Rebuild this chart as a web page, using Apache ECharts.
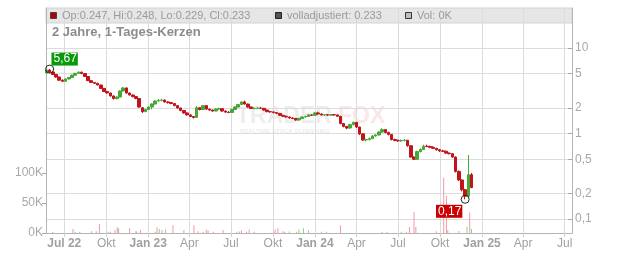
<!DOCTYPE html>
<html><head><meta charset="utf-8">
<script src="https://cdn.jsdelivr.net/npm/echarts@6/dist/echarts.min.js"></script>
<style>html,body{margin:0;padding:0;background:#fff}#c{width:632px;height:253px}</style>
</head><body><div id="c"></div>
<script>
// weekly candles (Monday of each week)
const weekDates = [
'2022-05-23','2022-05-30','2022-06-06','2022-06-13','2022-06-20','2022-06-27','2022-07-04','2022-07-11','2022-07-18','2022-07-25','2022-08-01','2022-08-08','2022-08-15','2022-08-22','2022-08-29','2022-09-05','2022-09-12','2022-09-19','2022-09-26','2022-10-03','2022-10-10','2022-10-17','2022-10-24','2022-10-31','2022-11-07','2022-11-14','2022-11-21','2022-11-28','2022-12-05','2022-12-12','2022-12-19','2022-12-26',
'2023-01-02','2023-01-09','2023-01-16','2023-01-23','2023-01-30','2023-02-06','2023-02-13','2023-02-20','2023-02-27','2023-03-06','2023-03-13','2023-03-20','2023-03-27','2023-04-03','2023-04-10','2023-04-17','2023-04-24','2023-05-01','2023-05-08','2023-05-15','2023-05-22','2023-05-29','2023-06-05','2023-06-12','2023-06-19','2023-06-26','2023-07-03','2023-07-10','2023-07-17','2023-07-24','2023-07-31','2023-08-07','2023-08-14','2023-08-21','2023-08-28','2023-09-04','2023-09-11','2023-09-18','2023-09-25','2023-10-02','2023-10-09','2023-10-16','2023-10-23','2023-10-30','2023-11-06','2023-11-13','2023-11-20','2023-11-27','2023-12-04','2023-12-11','2023-12-18','2023-12-25',
'2024-01-01','2024-01-08','2024-01-15','2024-01-22','2024-01-29','2024-02-05','2024-02-12','2024-02-19','2024-02-26','2024-03-04','2024-03-11','2024-03-18','2024-03-25','2024-04-01','2024-04-08','2024-04-15','2024-04-22','2024-04-29','2024-05-06','2024-05-13','2024-05-20','2024-05-27','2024-06-03','2024-06-10','2024-06-17','2024-06-24','2024-07-01','2024-07-08','2024-07-15','2024-07-22','2024-07-29','2024-08-05','2024-08-12','2024-08-19','2024-08-26','2024-09-02','2024-09-09','2024-09-16','2024-09-23','2024-09-30','2024-10-07','2024-10-14','2024-10-21','2024-10-28','2024-11-04','2024-11-11','2024-11-18','2024-11-25','2024-12-02','2024-12-09'];
const opens = [5.10,5.53,5.24,4.90,4.58,4.20,4.08,4.34,4.52,4.80,5.05,5.22,5.02,4.64,4.15,3.95,3.86,3.69,3.37,3.10,2.98,2.75,2.56,2.67,3.14,3.41,2.98,2.82,2.70,2.57,2.00,1.80,
1.91,2.04,2.21,2.40,2.44,2.46,2.34,2.30,2.24,2.12,1.99,1.86,1.74,1.65,1.58,1.54,2.00,1.91,2.12,1.93,1.88,1.83,1.93,1.95,1.83,1.78,1.76,1.91,2.04,2.18,2.34,2.21,2.04,1.96,1.97,1.98,1.97,1.88,1.80,1.79,1.76,1.72,1.63,1.59,1.56,1.52,1.50,1.44,1.50,1.56,1.58,1.65,
1.63,1.74,1.69,1.65,1.66,1.64,1.66,1.65,1.59,1.31,1.21,1.16,1.27,1.35,1.19,0.99,0.84,0.85,0.87,0.935,0.96,1.04,1.11,1.03,0.975,0.85,0.83,0.82,0.83,0.835,0.72,0.53,0.50,0.615,0.65,0.71,0.705,0.69,0.67,0.645,0.625,0.62,0.59,0.58,0.53,0.36,0.286,0.22,0.185,0.33];
const highs = [5.55,5.67,5.30,4.95,4.62,4.30,4.40,4.58,4.88,5.12,5.30,5.28,5.05,4.68,4.18,3.98,3.92,3.72,3.40,3.15,3.00,2.78,2.72,3.20,3.50,3.45,3.00,2.86,2.74,2.60,2.02,1.95,
2.08,2.26,2.45,2.52,2.55,2.50,2.38,2.33,2.27,2.15,2.00,1.88,1.76,1.68,1.60,2.10,2.02,2.15,2.14,1.95,1.90,1.96,2.00,1.96,1.86,1.82,1.95,2.08,2.22,2.38,2.42,2.24,2.06,2.02,2.02,2.03,1.99,1.90,1.84,1.81,1.78,1.74,1.66,1.62,1.58,1.55,1.52,1.53,1.59,1.62,1.68,1.67,
1.78,1.80,1.72,1.69,1.68,1.69,1.69,1.67,1.60,1.32,1.22,1.30,1.38,1.36,1.20,1.00,0.87,0.90,0.96,0.98,1.06,1.15,1.12,1.05,0.98,0.87,0.85,0.85,0.86,0.84,0.73,0.54,0.63,0.67,0.74,0.74,0.72,0.71,0.68,0.66,0.645,0.63,0.60,0.59,0.54,0.37,0.29,0.225,0.56,0.345];
const lows = [5.00,5.15,4.85,4.50,4.15,4.02,4.05,4.30,4.48,4.75,5.00,4.95,4.60,4.10,3.90,3.80,3.65,3.32,3.05,2.93,2.70,2.50,2.50,2.65,3.10,2.92,2.78,2.65,2.52,2.00,1.74,1.78,
1.89,1.92,2.18,2.36,2.38,2.30,2.24,2.20,2.08,1.95,1.82,1.70,1.62,1.55,1.50,1.52,1.86,1.90,1.90,1.84,1.80,1.82,1.90,1.80,1.75,1.73,1.75,1.90,2.02,2.15,2.18,2.00,1.93,1.92,1.93,1.93,1.85,1.77,1.76,1.72,1.68,1.60,1.55,1.53,1.49,1.47,1.41,1.40,1.48,1.54,1.56,1.60,
1.62,1.66,1.62,1.61,1.61,1.62,1.62,1.57,1.28,1.18,1.12,1.14,1.25,1.16,0.96,0.82,0.81,0.83,0.86,0.92,0.95,1.02,1.00,0.95,0.83,0.81,0.80,0.80,0.81,0.70,0.52,0.49,0.49,0.60,0.64,0.69,0.67,0.66,0.63,0.61,0.61,0.58,0.57,0.52,0.35,0.28,0.21,0.17,0.18,0.229];
const closes = [5.53,5.24,4.90,4.58,4.20,4.08,4.34,4.52,4.80,5.05,5.22,5.02,4.64,4.15,3.95,3.86,3.69,3.37,3.10,2.98,2.75,2.56,2.67,3.14,3.41,2.98,2.82,2.70,2.57,2.04,1.80,1.91,
2.04,2.21,2.40,2.44,2.46,2.34,2.30,2.24,2.12,1.99,1.86,1.74,1.65,1.58,1.54,2.00,1.91,2.12,1.93,1.88,1.83,1.93,1.95,1.83,1.78,1.76,1.91,2.04,2.18,2.34,2.21,2.04,1.96,1.97,1.98,1.97,1.88,1.80,1.79,1.76,1.72,1.63,1.59,1.56,1.52,1.50,1.44,1.50,1.56,1.58,1.65,1.63,
1.74,1.69,1.65,1.66,1.64,1.66,1.65,1.59,1.31,1.21,1.16,1.27,1.35,1.19,0.99,0.84,0.85,0.87,0.935,0.96,1.04,1.11,1.03,0.975,0.85,0.83,0.82,0.83,0.835,0.72,0.53,0.50,0.615,0.65,0.71,0.705,0.69,0.67,0.645,0.625,0.62,0.59,0.58,0.53,0.36,0.286,0.22,0.185,0.33,0.233];

// daily volume bars (non-zero days only); 1 = up day, 0 = down day
const volDates = ['2022-06-06','2022-07-20','2022-07-25','2022-08-04','2022-08-30','2022-09-09','2022-09-16','2022-10-05','2022-10-10','2022-10-20','2022-10-25','2022-10-28','2022-11-21','2022-12-05','2022-12-07','2022-12-15',
'2023-01-16','2023-01-20','2023-01-25','2023-01-31','2023-02-08','2023-02-24','2023-03-20','2023-04-11','2023-04-20','2023-05-01','2023-05-08','2023-05-12','2023-05-24','2023-06-14','2023-07-14','2023-07-20','2023-07-24','2023-08-04','2023-08-10','2023-08-21','2023-10-03','2023-10-06','2023-10-12','2023-10-23','2023-10-27','2023-11-06','2023-11-22','2023-11-27','2023-12-07','2023-12-18',
'2024-01-15','2024-01-26','2024-02-26','2024-05-27','2024-06-07','2024-07-08','2024-07-19','2024-07-26','2024-08-05','2024-08-09','2024-09-23','2024-10-09','2024-10-15','2024-10-18','2024-11-11','2024-11-29','2024-12-05','2024-12-09'];
const volValues = [2000,6700,2000,2000,3000,3000,15000,2000,2000,5000,9500,8000,8000,3500,2000,5000,
2000,9500,6500,5000,6000,13000,5000,13000,3000,2000,6000,4000,2000,5000,2000,2500,4000,2000,6000,2000,2000,6000,8000,3000,2000,2500,2000,6000,8000,4000,
2000,2000,13000,2000,2000,2000,2000,10000,35000,10000,3000,92000,62000,5000,3500,10500,34000,6500];
const volUp = [1,0,1,1,0,1,0,0,0,0,0,1,0,1,0,0,
0,0,1,1,0,0,0,0,0,1,0,0,0,0,1,1,0,0,0,1,0,0,0,0,0,1,0,1,1,1,
0,0,0,1,0,1,0,0,0,0,0,0,0,0,1,1,0,1];

const priceTicks = [0.1,0.2,0.5,1,2,5,10];
const volTicks = [0,50000,100000];
const monthTicks = ['2022-07-01','2022-10-01','2023-01-01','2023-04-01','2023-07-01','2023-10-01','2024-01-01','2024-04-01','2024-07-01','2024-10-01','2025-01-01','2025-04-01','2025-07-01'];
const monthLabels = ['Jul 22','Okt','Jan 23','Apr','Jul','Okt','Jan 24','Apr','Jul','Okt','Jan 25','Apr','Jul'];
const boldLabels = [1,0,1,0,0,0,1,0,0,0,1,0,0];
const xStart = '2022-05-22', xEnd = '2025-07-17';
const titleText = '2 Jahre, 1-Tages-Kerzen';
const legendOHLC = 'Op:0.247, Hi:0.248, Lo:0.229, Cl:0.233';
const legendAdj = 'volladjustiert: 0.233';
const legendVol = 'Vol: 0K';

const FONT = '"Liberation Sans", Arial, sans-serif';
const tp = s => Date.UTC(+s.slice(0,4), +s.slice(5,7) - 1, +s.slice(8,10));
const tickTs = monthTicks.map(tp);

const candleData = weekDates.map((d,i)=>[tp(d), opens[i], closes[i], lows[i], highs[i]]);
const volData = volDates.map((d,i)=>[tp(d), volValues[i]]);

const chart = echarts.init(document.getElementById('c'), null, {renderer:'canvas'});
chart.setOption({
  animation: false,
  title: {text: titleText, left: 52, top: 26, padding: 0,
    textStyle: {fontFamily: FONT, fontSize: 13, fontWeight: 'bold', color: '#8c8c8c'}},
  grid: {left: 46, right: 60, top: 8, bottom: 20},
  xAxis: {
    type: 'value',
    min: tp(xStart), max: tp(xEnd),
    axisLine: {show: true, onZero: false, lineStyle: {color: '#b4b4b4'}},
    axisTick: {show: true, length: 4, lineStyle: {color: '#cfcfcf'}, customValues: tickTs},
    splitLine: {show: true, lineStyle: {color: '#dcdcdc', width: 1}},
    axisLabel: {
      customValues: tickTs, margin: 5, color: '#a0a0a0', fontFamily: FONT, fontSize: 12,
      formatter: function (v) {
        const k = tickTs.indexOf(+v);
        if (k < 0) return '';
        return boldLabels[k] ? '{b|' + monthLabels[k] + '}' : monthLabels[k];
      },
      rich: {b: {fontWeight: 'bold', color: '#a0a0a0', fontFamily: FONT, fontSize: 12}}
    }
  },
  yAxis: [
    {
      type: 'log', logBase: 10, position: 'right',
      min: 0.06859, max: 29.36,
      axisLine: {show: true, lineStyle: {color: '#b4b4b4'}},
      axisTick: {show: true, inside: true, length: 4, lineStyle: {color: '#a8a8a8'}, customValues: priceTicks},
      splitLine: {show: true, lineStyle: {color: '#dcdcdc'}},
      axisLabel: {customValues: priceTicks, margin: 3, color: '#a8a8a8', fontFamily: FONT, fontSize: 12,
        formatter: v => String(Number((+v).toPrecision(3))).replace('.', ',')}
    },
    {
      type: 'value', position: 'left', min: 0, max: 375000,
      axisLine: {show: true, lineStyle: {color: '#b4b4b4'}},
      axisTick: {show: true, length: 4, lineStyle: {color: '#a8a8a8'}, customValues: volTicks},
      splitLine: {show: false},
      axisLabel: {customValues: volTicks, margin: 3, color: '#a8a8a8', fontFamily: FONT, fontSize: 12,
        formatter: v => Math.round(v / 1000) + 'K'}
    }
  ],
  series: [
    {
      type: 'bar', yAxisIndex: 1, data: volData, barWidth: 1, z: 1,
      itemStyle: {color: p => volUp[p.dataIndex] ? '#8fd08a' : '#f09aa3'}
    },
    {
      type: 'candlestick', yAxisIndex: 0, data: candleData, barWidth: 3, z: 3,
      itemStyle: {color: '#46a835', color0: '#c0141c', borderColor: '#46a835', borderColor0: '#c0141c', borderWidth: 1},
      markPoint: {
        symbol: 'circle', symbolSize: 8,
        itemStyle: {color: 'rgba(0,0,0,0)', borderColor: '#222', borderWidth: 1},
        label: {show: true, color: '#fff', fontFamily: FONT, fontSize: 12, padding: [1, 1, 0, 2], lineHeight: 12,
          formatter: p => (+p.value).toFixed(2).replace('.', ',')},
        data: [
          {type: 'max', valueDim: 'highest', label: {backgroundColor: '#0a990a', offset: [15, -10]}},
          {type: 'min', valueDim: 'lowest', label: {backgroundColor: '#cc0000', offset: [-16, 12]}}
        ]
      }
    }
  ],
  graphic: [
    {type: 'rect', z: -10, shape: {x: 46, y: 8, width: 526, height: 15}, style: {fill: '#e6e6e6', stroke: '#d2d2d2', lineWidth: 1}},
    {type: 'rect', z: 10, shape: {x: 50.5, y: 12.5, width: 6, height: 6}, style: {fill: '#b30000', stroke: '#444', lineWidth: 1}},
    {type: 'text', z: 10, x: 62, y: 16, style: {text: legendOHLC, fill: '#9a9a9a', font: '11px ' + FONT, verticalAlign: 'middle'}},
    {type: 'rect', z: 10, shape: {x: 275.5, y: 12.5, width: 6, height: 6}, style: {fill: '#555', stroke: '#222', lineWidth: 1}},
    {type: 'text', z: 10, x: 287, y: 16, style: {text: legendAdj, fill: '#9a9a9a', font: '11px ' + FONT, verticalAlign: 'middle'}},
    {type: 'rect', z: 10, shape: {x: 405.5, y: 12.5, width: 6, height: 6}, style: {fill: '#c0c0c0', stroke: '#333', lineWidth: 1}},
    {type: 'text', z: 10, x: 417, y: 16, style: {text: legendVol, fill: '#9a9a9a', font: '11px ' + FONT, verticalAlign: 'middle'}},
    {type: 'text', z: -5, x: 236, y: 117, style: {text: 'TRADER', fill: 'rgba(0,0,0,0.07)', font: 'bold 23px ' + FONT, verticalAlign: 'middle'}},
    {type: 'text', z: -5, x: 338, y: 117, style: {text: 'FOX', fill: 'rgba(230,40,40,0.11)', font: 'bold 23px ' + FONT, verticalAlign: 'middle'}},
    {type: 'text', z: -5, x: 240, y: 131, style: {text: 'REALTIME STOCK SCREENING', fill: 'rgba(0,0,0,0.09)', font: 'bold 6px ' + FONT, verticalAlign: 'middle'}}
  ]
});
</script></body></html>
